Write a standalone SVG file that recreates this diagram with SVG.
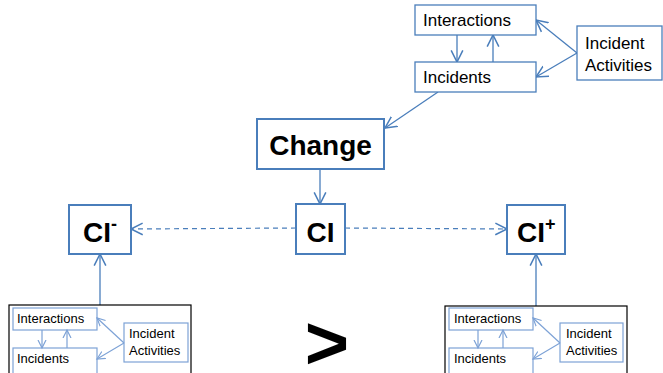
<svg xmlns="http://www.w3.org/2000/svg" width="663" height="373" viewBox="0 0 663 373">
<defs>
<style>
.b{fill:#fff;stroke:#4a7ebb;stroke-width:1.3}
.bb{fill:#fff;stroke:#4a7ebb;stroke-width:2}
.sb{fill:#fff;stroke:#7da2d6;stroke-width:1.2}
.frame{fill:#fff;stroke:#000;stroke-width:1.2}
.t{font-family:"Liberation Sans",Arial,sans-serif;font-size:17px;fill:#000}
.ts{font-family:"Liberation Sans",Arial,sans-serif;font-size:13px;fill:#000}
.tb{font-family:"Liberation Sans",Arial,sans-serif;font-weight:bold;font-size:28px;fill:#000}
.c{fill:none;stroke:#4a7ebb;stroke-width:1.3;marker-end:url(#ah)}
.cs{fill:none;stroke:#7da2d6;stroke-width:1.2;marker-end:url(#ahs)}
.d{fill:none;stroke:#4a7ebb;stroke-width:1.2;stroke-dasharray:5,4;marker-end:url(#ah)}
</style>
<marker id="ah" markerUnits="userSpaceOnUse" markerWidth="14" markerHeight="14" refX="10" refY="5" orient="auto" viewBox="0 0 12 10">
<path d="M0,0 L10,5 L0,10" fill="none" stroke="#4a7ebb" stroke-width="1.3"/>
</marker>
<marker id="ahs" markerUnits="userSpaceOnUse" markerWidth="10" markerHeight="10" refX="8" refY="4" orient="auto" viewBox="0 0 10 8">
<path d="M0,0 L8,4 L0,8" fill="none" stroke="#7da2d6" stroke-width="1.2"/>
</marker>
</defs>
<rect width="663" height="373" fill="#fff"/>

<g id="connectors">
<line class="c" x1="457" y1="35" x2="457" y2="62"/>
<line class="c" x1="493" y1="62" x2="493" y2="35"/>
<line class="c" x1="577" y1="53" x2="536" y2="20"/>
<line class="c" x1="577" y1="53" x2="536" y2="77"/>
<line class="c" x1="438" y1="92" x2="385" y2="128"/>
<line class="c" x1="320" y1="169" x2="320" y2="204"/>
<line class="d" x1="296" y1="228" x2="131" y2="229"/>
<line class="d" x1="345" y1="228" x2="507" y2="229"/>
<line class="c" x1="100" y1="305" x2="100" y2="254"/>
<line class="c" x1="536" y1="306" x2="536" y2="254"/>
</g>

<g id="top-cluster">
<rect class="b" x="415" y="5" width="121" height="30"/>
<text class="t" x="423" y="26">Interactions</text>
<rect class="b" x="415" y="62" width="121" height="30"/>
<text class="t" x="423" y="83">Incidents</text>
<rect class="b" x="577" y="26" width="85" height="54"/>
<text class="t" x="585" y="49">Incident</text>
<text class="t" x="585" y="71">Activities</text>
</g>

<g id="change">
<rect class="bb" x="257" y="119" width="127" height="50"/>
<text class="tb" x="320.5" y="155" text-anchor="middle">Change</text>
</g>

<g id="ci">
<rect class="bb" x="296" y="204" width="49" height="50"/>
<text class="tb" x="320.5" y="242" text-anchor="middle">CI</text>
</g>

<g id="ci-minus">
<rect class="bb" x="69" y="205" width="62" height="49"/>
<text class="tb" x="83" y="242">CI<tspan font-size="18" dy="-12">-</tspan></text>
</g>

<g id="ci-plus">
<rect class="bb" x="507" y="205" width="58" height="49"/>
<text class="tb" x="517" y="242">CI<tspan font-size="18" dy="-12">+</tspan></text>
</g>

<g id="left-cluster">
<rect class="frame" x="9" y="305" width="182" height="70"/>
<rect class="sb" x="13" y="308" width="84" height="22"/>
<text class="ts" x="17" y="323">Interactions</text>
<rect class="sb" x="13" y="348" width="84" height="30"/>
<text class="ts" x="17" y="363">Incidents</text>
<rect class="sb" x="124" y="323" width="64" height="39"/>
<text class="ts" x="129" y="338">Incident</text>
<text class="ts" x="129" y="355">Activities</text>
<line class="cs" x1="42" y1="330" x2="42" y2="348"/>
<line class="cs" x1="67" y1="348" x2="67" y2="330"/>
<line class="cs" x1="124" y1="343" x2="97" y2="318"/>
<line class="cs" x1="124" y1="343" x2="97" y2="359"/>
</g>

<g id="right-cluster">
<rect class="frame" x="445" y="306" width="182" height="70"/>
<rect class="sb" x="449" y="308" width="84" height="22"/>
<text class="ts" x="454" y="323">Interactions</text>
<rect class="sb" x="449" y="348" width="84" height="30"/>
<text class="ts" x="454" y="363">Incidents</text>
<rect class="sb" x="560" y="323" width="63" height="39"/>
<text class="ts" x="566" y="338">Incident</text>
<text class="ts" x="566" y="355">Activities</text>
<line class="cs" x1="478" y1="330" x2="478" y2="348"/>
<line class="cs" x1="503" y1="348" x2="503" y2="330"/>
<line class="cs" x1="560" y1="343" x2="533" y2="318"/>
<line class="cs" x1="560" y1="343" x2="533" y2="359"/>
</g>

<g id="greater-than">
<text x="327" y="369" text-anchor="middle" font-family="'Liberation Sans',Arial,sans-serif" font-weight="bold" font-size="76" fill="#000">&gt;</text>
</g>
</svg>
